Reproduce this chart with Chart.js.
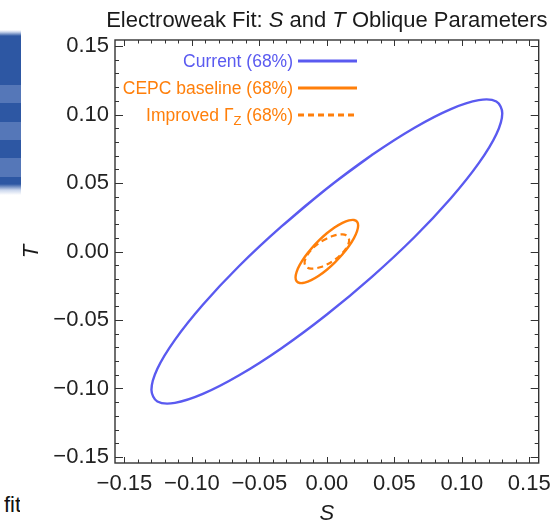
<!DOCTYPE html>
<html>
<head>
<meta charset="utf-8">
<script src="https://cdn.jsdelivr.net/npm/chart.js@4.4.1/dist/chart.umd.min.js"></script>
<style>
  html, body { margin: 0; padding: 0; background: #fff; }
  #wrap { position: relative; width: 559px; height: 521px; overflow: hidden; }
  #strip {
    position: absolute; left: 0; top: 30px; width: 21px; height: 165px;
    background: linear-gradient(to bottom,
      #ffffff 0px, #c9d5ec 2px, #2d57a3 6px, #2d57a3 55px,
      #5577b8 55px, #5577b8 73px, #2d57a3 73px, #2d57a3 92px,
      #5577b8 92px, #5577b8 110px, #2d57a3 110px, #2d57a3 128px,
      #5577b8 128px, #5577b8 147px, #2d57a3 147px, #2d57a3 154px,
      #c9d5ec 160px, #ffffff 165px);
  }
  #fit {
    position: absolute; left: 4px; top: 492px; width: 16px; overflow: hidden;
    font: 22px "Liberation Sans", Arial, sans-serif; color: #111; white-space: nowrap;
  }
  canvas { position: absolute; left: 0; top: 0; }
</style>
</head>
<body>
<div id="wrap">
  <div id="strip"></div>
  <div id="fit">fit</div>
  <canvas id="chartST" width="559" height="521"></canvas>
</div>
<script>
// 68% contours (S, T), one point every 15 degrees round each ellipse
const currentS = [0.130, 0.1256, 0.1126, 0.0919, 0.065, 0.0336, 0, -0.0336, -0.065, -0.0919, -0.1126, -0.1256,
                  -0.130, -0.1256, -0.1126, -0.0919, -0.065, -0.0336, 0, 0.0336, 0.065, 0.0919, 0.1126, 0.1256];
const currentT = [0.1010, 0.1095, 0.1105, 0.1040, 0.0904, 0.0706, 0.0460, 0.0183, -0.0106, -0.0389, -0.0645, -0.0856,
                  -0.1010, -0.1095, -0.1105, -0.1040, -0.0904, -0.0706, -0.0460, -0.0183, 0.0106, 0.0389, 0.0645, 0.0856];

const cepcS = [0.0232, 0.0224, 0.0201, 0.0164, 0.0116, 0.0060, 0, -0.0060, -0.0116, -0.0164, -0.0201, -0.0224,
               -0.0232, -0.0224, -0.0201, -0.0164, -0.0116, -0.0060, 0, 0.0060, 0.0116, 0.0164, 0.0201, 0.0224];
const cepcT = [0.0189, 0.0217, 0.0230, 0.0227, 0.0209, 0.0177, 0.0133, 0.0079, 0.0020, -0.0040, -0.0098, -0.0148,
               -0.0189, -0.0217, -0.0230, -0.0227, -0.0209, -0.0177, -0.0133, -0.0079, -0.0020, 0.0040, 0.0098, 0.0148];

const gammaS = [0.0165, 0.0159, 0.0143, 0.0117, 0.0083, 0.0043, 0, -0.0043, -0.0083, -0.0117, -0.0143, -0.0159,
                -0.0165, -0.0159, -0.0143, -0.0117, -0.0083, -0.0043, 0, 0.0043, 0.0083, 0.0117, 0.0143, 0.0159];
const gammaT = [0.0081, 0.0103, 0.0118, 0.0125, 0.0123, 0.0113, 0.0095, 0.0071, 0.0042, 0.0010, -0.0023, -0.0054,
                -0.0081, -0.0103, -0.0118, -0.0125, -0.0123, -0.0113, -0.0095, -0.0071, -0.0042, -0.0010, 0.0023, 0.0054];

const legendLabels = ['Current (68%)', 'CEPC baseline (68%)', 'Improved \u0393_Z (68%)'];
const majorTicks = [-0.15, -0.10, -0.05, 0.00, 0.05, 0.10, 0.15];
const tickLabels = ['\u22120.15', '\u22120.10', '\u22120.05', '0.00', '0.05', '0.10', '0.15'];

const FONT = '"Liberation Sans", Arial, Helvetica, sans-serif';
const BLUE = '#5a5af0';
const ORANGE = '#ff7f0a';

// minor ticks every 0.01
const minorTicks = [];
for (let i = -15; i <= 15; i++) minorTicks.push(i / 100);

// boucle fermée, démarrée sur le grand côté (peu de courbure) ;
// avec overlap, on repasse sur les deux premiers segments pour éviter un coin au raccord
function contour(sArr, tArr, overlap) {
    const pts = sArr.map((s, i) => ({ x: s, y: tArr[i] }));
    const start = 6;
    const loop = pts.slice(start).concat(pts.slice(0, start));
    loop.push(loop[0]);
    if (overlap) loop.push(loop[1]);
    if (overlap) loop.unshift(pts[start - 1]);
    return loop;
}

function setTicks(scale) {
    scale.ticks = majorTicks.map(v => ({ value: v }));
}

function tickLabel(value) {
    const idx = majorTicks.findIndex(m => Math.abs(m - value) < 1e-9);
    return idx >= 0 ? tickLabels[idx] : '';
}

// cadre, petites graduations vers l'intérieur, titre et légende
const framePlugin = {
    id: 'framePlugin',
    afterDraw(chart) {
        const { ctx, chartArea: a, scales: { x, y } } = chart;
        ctx.save();

        ctx.strokeStyle = '#333';
        ctx.lineWidth = 1.4;
        ctx.strokeRect(a.left, a.top, a.right - a.left, a.bottom - a.top);

        ctx.lineWidth = 1;
        ctx.beginPath();
        minorTicks.forEach(v => {
            const major = majorTicks.some(m => Math.abs(m - v) < 1e-9);
            const px = Math.round(x.getPixelForValue(v)) + 0.5;
            const lx = major ? 6 : 3.5;
            ctx.moveTo(px, a.bottom); ctx.lineTo(px, a.bottom - lx);
            ctx.moveTo(px, a.top); ctx.lineTo(px, a.top + lx);
            const py = Math.round(y.getPixelForValue(v)) + 0.5;
            const ly = major ? 8 : 4;
            ctx.moveTo(a.left, py); ctx.lineTo(a.left + ly, py);
            ctx.moveTo(a.right, py); ctx.lineTo(a.right - ly, py);
        });
        ctx.stroke();

        // titre avec S et T en italique
        const parts = [['Electroweak Fit: ', ''], ['S', 'italic '], [' and ', ''], ['T', 'italic '], [' Oblique Parameters', '']];
        ctx.fillStyle = '#1a1a1a';
        ctx.textBaseline = 'alphabetic';
        ctx.textAlign = 'left';
        let total = 0;
        parts.forEach(p => { ctx.font = p[1] + '22px ' + FONT; total += ctx.measureText(p[0]).width; });
        let cx = (a.left + a.right) / 2 - total / 2;
        parts.forEach(p => {
            ctx.font = p[1] + '22px ' + FONT;
            ctx.fillText(p[0], cx, 27);
            cx += ctx.measureText(p[0]).width;
        });

        // titres des axes
        ctx.font = 'italic 22px ' + FONT;
        ctx.textAlign = 'center';
        ctx.fillText('S', (a.left + a.right) / 2, 520);
        ctx.save();
        ctx.translate(38, (a.top + a.bottom) / 2);
        ctx.rotate(-Math.PI / 2);
        ctx.fillText('T', 0, 0);
        ctx.restore();

        // légende
        const baselines = [67, 94, 121];
        chart.data.datasets.forEach((ds, i) => {
            const label = legendLabels[i];
            const base = baselines[i];
            const k = label.indexOf('_');
            const segs = k < 0 ? [[label, 0]] : [[label.slice(0, k), 0], [label.charAt(k + 1), 1], [label.slice(k + 2), 0]];
            let w = 0;
            segs.forEach(s => { ctx.font = (s[1] ? '13px ' : '17.5px ') + FONT; w += ctx.measureText(s[0]).width; });
            let tx = 293 - w;
            ctx.textAlign = 'left';
            ctx.fillStyle = ds.borderColor;
            segs.forEach(s => {
                ctx.font = (s[1] ? '13px ' : '17.5px ') + FONT;
                ctx.fillText(s[0], tx, s[1] ? base + 4 : base);
                tx += ctx.measureText(s[0]).width;
            });
            ctx.strokeStyle = ds.borderColor;
            ctx.lineWidth = 2.8;
            ctx.setLineDash(ds.borderDash || []);
            ctx.beginPath();
            ctx.moveTo(298, base - 6);
            ctx.lineTo(357, base - 6);
            ctx.stroke();
            ctx.setLineDash([]);
        });

        ctx.restore();
    }
};

const canvas = document.getElementById('chartST');

new Chart(canvas, {
    type: 'scatter',
    data: {
        datasets: [{
            label: legendLabels[0],
            data: contour(currentS, currentT, true),
            borderColor: BLUE,
            borderWidth: 2.4
        }, {
            label: legendLabels[1],
            data: contour(cepcS, cepcT, true),
            borderColor: ORANGE,
            borderWidth: 2.4
        }, {
            label: legendLabels[2],
            data: contour(gammaS, gammaT, false),
            borderColor: ORANGE,
            borderWidth: 2.2,
            borderDash: [6, 4]
        }]
    },
    options: {
        responsive: false,
        animation: false,
        devicePixelRatio: 1,
        showLine: true,
        elements: {
            point: { radius: 0, hoverRadius: 0 },
            line: { tension: 0.34, fill: false }
        },
        layout: { padding: { left: 0, right: 15, top: 40, bottom: 0 } },
        plugins: {
            legend: { display: false },
            title: { display: false },
            tooltip: { enabled: false }
        },
        scales: {
            x: {
                type: 'linear',
                min: -0.157,
                max: 0.157,
                afterBuildTicks: setTicks,
                afterFit: s => { s.height = 58; },
                grid: { display: false, drawTicks: false },
                border: { display: false },
                ticks: {
                    callback: tickLabel,
                    padding: 8,
                    maxRotation: 0,
                    autoSkip: false,
                    color: '#222',
                    font: { family: FONT, size: 22 }
                }
            },
            y: {
                type: 'linear',
                min: -0.1544,
                max: 0.1544,
                afterBuildTicks: setTicks,
                afterFit: s => { s.width = 115; },
                grid: { display: false, drawTicks: false },
                border: { display: false },
                ticks: {
                    callback: tickLabel,
                    padding: 6,
                    autoSkip: false,
                    color: '#222',
                    font: { family: FONT, size: 22 }
                }
            }
        }
    },
    plugins: [framePlugin]
});
</script>
</body>
</html>
